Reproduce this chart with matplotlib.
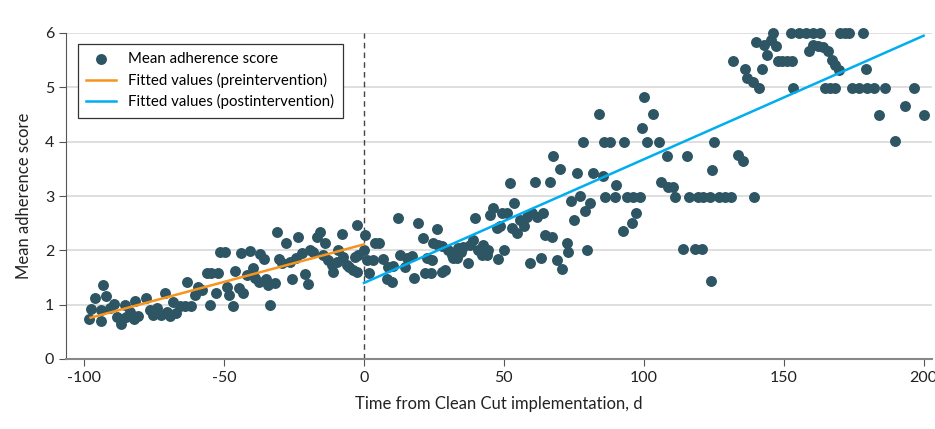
import numpy as np
import matplotlib
matplotlib.use("Agg")
import matplotlib.pyplot as plt

plt.rcParams['font.family'] = ['Lato', 'DejaVu Sans']
plt.rcParams['axes.unicode_minus'] = False

# days from implementation and mean adherence score
days = [
    -98.3, -97.7, -96.2, -94.1, -94.1, -93.2, -92.2, -90.8, -89.3, -88.4,
    -87.0, -85.4, -85.1, -83.7, -82.2, -81.9, -80.7, -77.9, -76.5, -75.3,
    -73.9, -72.7, -71.1, -70.5, -69.4, -68.2, -67.2, -65.8, -64.0, -63.4,
    -62.0, -60.4, -59.2, -58.0, -56.2, -55.1, -54.5, -53.0, -52.1, -51.5,
    -49.7, -49.1, -48.2, -46.9, -46.1, -44.6, -44.1, -43.1, -41.9, -40.8,
    -39.8, -39.0, -37.4, -37.2, -35.8, -35.0, -34.2, -33.6, -31.8, -31.2,
    -30.3, -29.4, -27.9, -26.5, -25.8, -24.3, -23.5, -22.3, -21.1, -20.1,
    -19.3, -18.1, -16.9, -15.7, -14.6, -13.9, -12.8, -11.5, -11.0, -9.8,
    -9.2, -8.0, -7.4, -6.2, -5.3, -3.8, -3.2, -2.6, -2.6, -2.0,
    0.0, 0.3, 1.0, 1.8, 3.3, 3.9, 5.4, 6.9, 8.1, 8.7,
    10.1, 10.5, 12.0, 12.9, 14.7, 15.3, 17.1, 18.0, 19.2, 21.2,
    21.8, 22.4, 24.0, 24.2, 24.8, 26.0, 26.6, 27.8, 28.0, 29.0,
    30.1, 31.4, 31.9, 33.1, 33.7, 34.7, 35.5, 37.3, 37.9, 39.1,
    39.7, 40.9, 42.1, 42.7, 43.9, 44.4, 45.0, 46.2, 47.4, 48.0,
    48.6, 49.2, 50.1, 51.0, 52.2, 52.8, 53.7, 54.6, 55.8, 57.2,
    58.2, 59.3, 60.0, 61.1, 62.0, 63.2, 64.1, 64.7, 66.3, 67.1,
    67.7, 69.1, 70.1, 70.7, 72.5, 73.0, 74.0, 75.1, 76.0, 77.2,
    78.4, 79.0, 79.8, 80.8, 82.0, 84.1, 85.3, 85.6, 86.3, 88.0,
    89.7, 90.1, 92.5, 93.0, 93.9, 95.7, 96.3, 97.2, 98.7, 99.3,
    100.1, 101.1, 103.4, 105.6, 106.3, 108.2, 108.8, 110.6, 111.2, 113.9,
    115.6, 116.0, 118.3, 119.2, 120.7, 121.1, 123.7, 124.0, 124.3, 125.1,
    126.7, 129.1, 131.1, 132.0, 133.8, 135.4, 136.2, 137.0, 139.2, 139.5,
    140.1, 141.3, 142.2, 143.0, 144.2, 145.4, 146.3, 147.3, 147.8, 149.5,
    151.3, 153.0, 152.5, 153.2, 155.3, 158.0, 160.6, 163.0, 170.2, 172.0,
    173.5, 178.5, 158.9, 160.6, 162.1, 164.2, 166.0, 167.2, 168.4, 169.6,
    179.5, 164.8, 166.6, 168.4, 174.5, 176.9, 179.9, 182.1, 186.3, 196.4,
    184.2, 193.4, 200.2, 189.8,
]
scores = [
    0.73, 0.92, 1.12, 0.91, 0.70, 1.36, 1.16, 0.93, 1.02, 0.77,
    0.64, 0.99, 0.77, 0.87, 0.73, 1.07, 0.79, 1.12, 0.90, 0.81,
    0.93, 0.81, 1.21, 0.87, 0.79, 1.05, 0.84, 0.98, 0.98, 1.42,
    0.98, 1.18, 1.33, 1.27, 1.58, 0.99, 1.58, 1.21, 1.58, 1.97,
    1.97, 1.33, 1.18, 0.98, 1.62, 1.30, 1.96, 1.21, 1.55, 1.99,
    1.67, 1.50, 1.42, 1.93, 1.84, 1.47, 1.36, 0.99, 1.39, 2.33,
    1.84, 1.77, 2.13, 1.79, 1.48, 1.85, 2.24, 1.96, 1.56, 1.38,
    2.01, 1.97, 2.24, 2.33, 1.91, 2.13, 1.82, 1.73, 1.61, 1.79,
    2.01, 2.30, 1.88, 1.73, 1.70, 1.64, 1.88, 2.47, 1.61, 1.91,
    2.01, 2.28, 1.82, 1.59, 1.82, 2.14, 2.14, 1.84, 1.47, 1.70,
    1.42, 1.71, 2.59, 1.91, 1.70, 1.85, 1.90, 1.50, 2.51, 2.22,
    1.59, 1.85, 1.59, 1.82, 2.13, 2.39, 2.10, 2.08, 1.61, 1.64,
    2.01, 1.91, 1.85, 1.85, 2.04, 1.97, 2.07, 1.76, 2.10, 2.19,
    2.59, 2.01, 1.91, 2.10, 1.91, 2.01, 2.65, 2.77, 2.41, 1.84,
    2.44, 2.68, 2.01, 2.68, 3.24, 2.42, 2.87, 2.31, 2.56, 2.45,
    2.62, 1.76, 2.68, 3.25, 2.62, 1.86, 2.69, 2.28, 3.26, 2.25,
    3.74, 1.82, 3.49, 1.66, 2.13, 1.97, 2.90, 2.55, 3.42, 3.00,
    4.00, 2.73, 2.01, 2.87, 3.42, 4.51, 3.36, 4.00, 2.99, 4.00,
    2.99, 3.20, 2.36, 4.00, 2.99, 2.51, 2.99, 2.68, 2.99, 4.26,
    4.82, 4.00, 4.51, 4.00, 3.25, 3.74, 3.17, 3.17, 2.99, 2.02,
    3.74, 2.99, 2.02, 2.99, 2.02, 2.99, 2.99, 1.44, 3.48, 4.00,
    2.99, 2.99, 2.99, 5.49, 3.75, 3.65, 5.33, 5.18, 5.10, 2.99,
    5.84, 4.98, 5.33, 5.78, 5.60, 5.87, 6.00, 5.76, 5.49, 5.49,
    5.49, 5.49, 6.00, 4.98, 6.00, 6.00, 6.00, 6.00, 6.00, 6.00,
    6.00, 6.00, 5.67, 5.78, 5.76, 5.74, 5.66, 5.50, 5.41, 5.32,
    5.33, 4.98, 4.98, 4.98, 4.98, 4.98, 4.98, 4.98, 4.98, 4.98,
    4.49, 4.66, 4.49, 4.02,
]

# fitted segments (endpoints)
pre_x = [-97.7, 0]
pre_y = [0.76, 2.11]
post_x = [0, 200]
post_y = [1.40, 5.95]

dot_color = '#2d5563'
fig = plt.figure(figsize=(9.35, 4.29), dpi=100)
ax = fig.add_axes([66 / 935, 70 / 429, 866 / 935, 326 / 429])

ax.scatter(days, scores, s=62, color=dot_color, linewidths=0, zorder=3,
           clip_on=False, label='Mean adherence score')
ax.plot(pre_x, pre_y, color='#f7941d', lw=1.8, zorder=4,
        label='Fitted values (preintervention)')
ax.plot(post_x, post_y, color='#00aeef', lw=1.8, zorder=4,
        label='Fitted values (postintervention)')
ax.axvline(0, color='#444444', lw=1, ls=(0, (4, 3)), zorder=2)

ax.set_xlim(-106.5, 203)
ax.set_ylim(0, 6)
ax.set_xticks([-100, -50, 0, 50, 100, 150, 200])
ax.set_yticks(range(7))
ax.grid(axis='y', color='#dcdcdc', lw=1.3)
ax.set_axisbelow(True)

for s in ['top', 'right']:
    ax.spines[s].set_visible(False)
ax.spines['left'].set_color('#555555')
ax.spines['bottom'].set_color('#888888')
ax.spines['bottom'].set_linewidth(1.5)
ax.tick_params(axis='both', direction='out', length=5, color='#555555',
               labelsize=11.5, labelcolor='#222222')

ax.set_xlabel('Time from Clean Cut implementation, d', fontsize=12,
              color='#222222', labelpad=8)
ax.set_ylabel('Mean adherence score', fontsize=12, color='#222222',
              labelpad=9)

leg = ax.legend(loc='upper left', bbox_to_anchor=(12 / 866, 1 - 11 / 326),
                fontsize=10.8, frameon=True, fancybox=False, framealpha=1,
                edgecolor='#333333', borderpad=0.55, handlelength=2.0,
                labelspacing=0.43, borderaxespad=0)
leg.get_frame().set_linewidth(0.9)

fig.savefig('out.png', dpi=100)
